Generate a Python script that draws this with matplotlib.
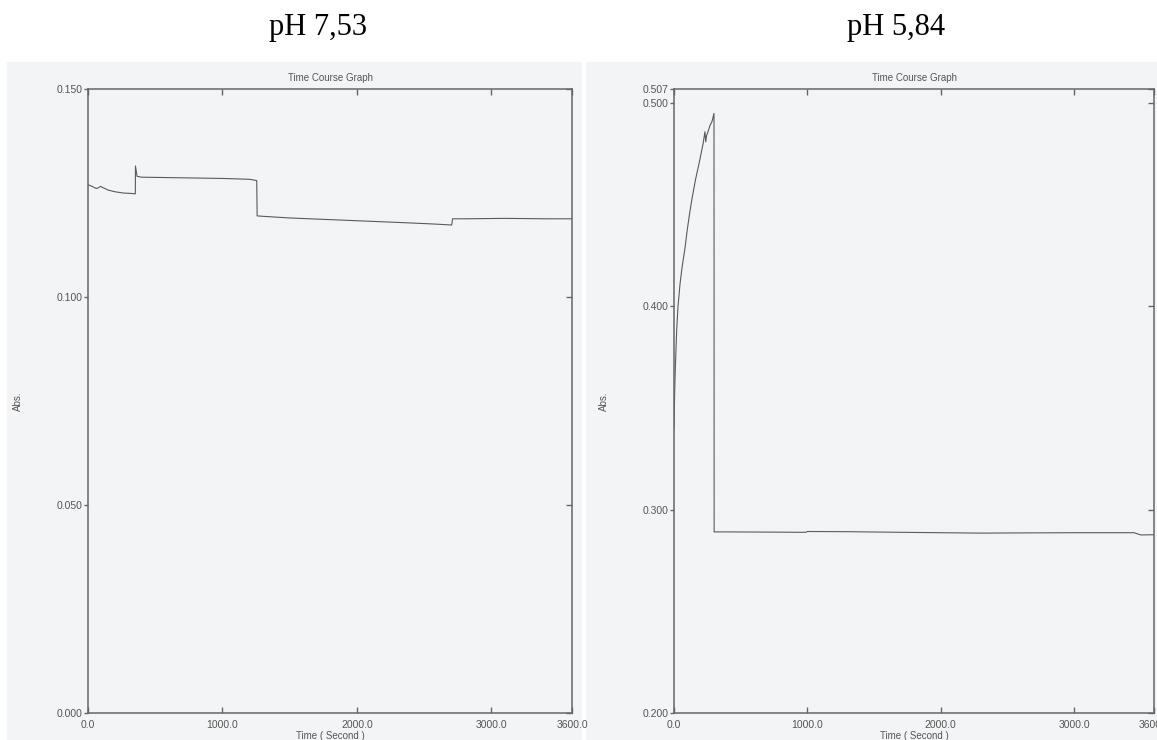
import matplotlib.pyplot as plt
from matplotlib.patches import Rectangle

# Absorbance time courses, two buffer conditions
left_time = [0, 30, 60, 75, 95, 110, 150, 200, 260, 320, 352, 353, 365, 400, 600,
             800, 1000, 1200, 1255, 1258, 1300, 1500, 1800, 2100, 2400, 2600, 2705,
             2712, 2800, 3100, 3400, 3600]
left_abs = [0.1270, 0.1266, 0.1261, 0.1262, 0.1266, 0.1263, 0.1257, 0.1253, 0.1250,
            0.1249, 0.1248, 0.1315, 0.1290, 0.1288, 0.1287, 0.1286, 0.1285, 0.1283,
            0.1280, 0.1195, 0.1194, 0.1190, 0.1186, 0.1182, 0.1178, 0.1175, 0.1173,
            0.1188, 0.1188, 0.1189, 0.1188, 0.1188]

right_time = [0, 5, 10, 20, 30, 45, 60, 83, 100, 120, 135, 160, 190, 218, 232, 238,
              244, 255, 270, 285, 300, 301, 400, 700, 990, 1000, 1300, 1700, 2000,
              2300, 2600, 3000, 3450, 3500, 3600]
right_abs = [0.340, 0.358, 0.370, 0.388, 0.400, 0.411, 0.419, 0.429, 0.438, 0.447,
             0.453, 0.462, 0.471, 0.480, 0.486, 0.481, 0.484, 0.486, 0.489, 0.491,
             0.495, 0.2891, 0.2891, 0.2890, 0.2889, 0.2893, 0.2892, 0.2889, 0.2887,
             0.2885, 0.2886, 0.2887, 0.2887, 0.2876, 0.2877]

panel_titles = ["pH 7,53", "pH 5,84"]
left_yticks = [0.000, 0.050, 0.100, 0.150]
right_yticks = [0.200, 0.300, 0.400, 0.500, 0.507]
xticks = [0.0, 1000.0, 2000.0, 3000.0, 3600.0]

W, H = 1157, 740
PAPER = "#f3f4f6"
INK = "#5a5a5a"
TEXT = "#555555"

plt.rcParams["font.family"] = ["Liberation Sans", "DejaVu Sans"]

fig = plt.figure(figsize=(W / 100, H / 100), dpi=100, facecolor="white")

# scanned sheets behind each graph
for x0, x1 in [(7, 582), (586, 1157)]:
    fig.patches.append(
        Rectangle((x0 / W, 0), (x1 - x0) / W, (H - 62) / H,
                  transform=fig.transFigure, facecolor=PAPER, edgecolor="none",
                  zorder=-10)
    )


def draw_panel(px_left, px_right, time, absorb, ylim, yticks):
    top, bottom = 89, 713
    ax = fig.add_axes([px_left / W, 1 - bottom / H, (px_right - px_left) / W,
                       (bottom - top) / H])
    ax.set_facecolor(PAPER)
    ax.plot(time, absorb, color=INK, linewidth=0.8)
    ax.set_xlim(0, 3600)
    ax.set_ylim(*ylim)
    for spine in ax.spines.values():
        spine.set_color("#666666")
        spine.set_linewidth(1.1)

    ax.set_xticks(xticks)
    ax.set_xticklabels([f"{v:.1f}" for v in xticks])
    ax.set_yticks(yticks)
    ax.set_yticklabels([f"{v:.3f}" for v in yticks])
    ax.tick_params(axis="x", direction="in", top=True, length=4.5, width=1,
                   color="#666666", labelsize=7.5, labelcolor=TEXT, pad=5)
    ax.tick_params(axis="y", direction="out", length=3, width=1,
                   color="#666666", labelsize=7.5, labelcolor=TEXT, pad=1)
    # inward ticks on the right frame
    sec = ax.secondary_yaxis("right")
    sec.set_yticks(yticks)
    sec.tick_params(direction="in", length=4.5, width=1, color="#666666",
                    labelright=False)
    sec.spines["right"].set_visible(False)

    ax.set_title("Time Course Graph", fontsize=7, color=TEXT, pad=6)
    ax.set_xlabel("Time ( Second )", fontsize=7, color=TEXT, labelpad=1)
    ax.set_ylabel("Abs.", fontsize=7, color=TEXT)
    return ax


ax_l = draw_panel(88, 572, left_time, left_abs, (0.0, 0.150), left_yticks)
ax_l.yaxis.set_label_coords(-0.134, 0.5)
ax_r = draw_panel(674, 1154, right_time, right_abs, (0.200, 0.507), right_yticks)
ax_r.yaxis.set_label_coords(-0.136, 0.5)

for x_px, title in zip([318, 896], panel_titles):
    fig.text(x_px / W, 1 - 27 / H, title, ha="center", va="center",
             fontsize=22, family=["Liberation Serif", "DejaVu Serif"],
             color="black")

fig.savefig("out.png", dpi=100, facecolor="white")
